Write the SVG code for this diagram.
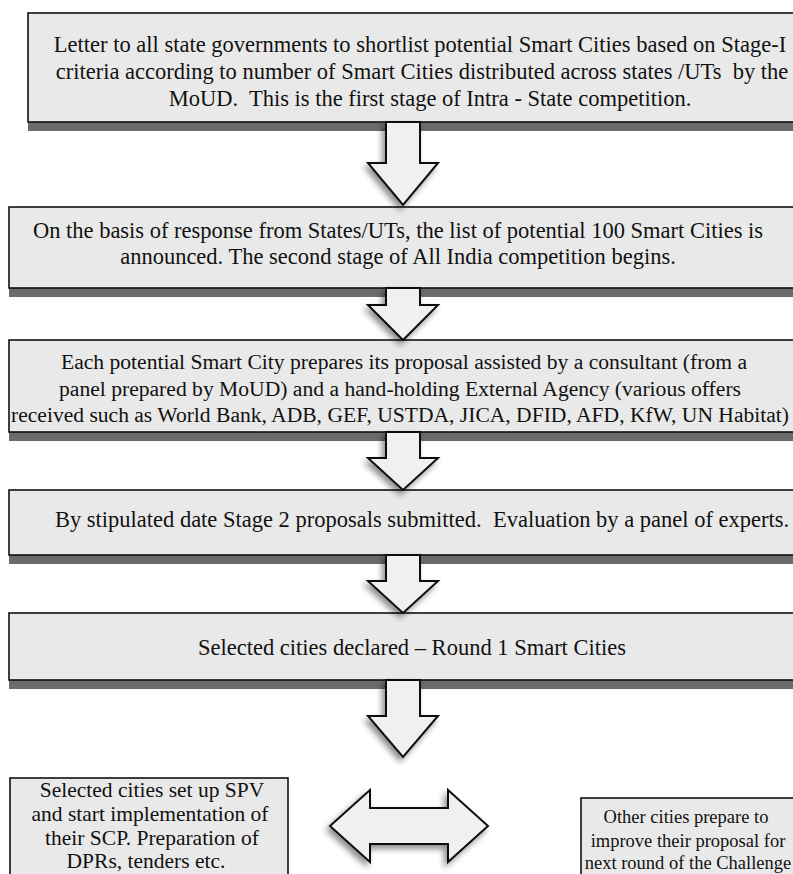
<svg xmlns="http://www.w3.org/2000/svg" width="793" height="874" viewBox="0 0 793 874">
<style>
.box{fill:#e9e9e9;stroke:#111;stroke-width:1.6}
.band{fill:#6b6b6b}
.t{font-family:"Liberation Serif","Times New Roman",serif;font-size:22.5px;fill:#111;text-anchor:middle}
.m{font-size:21.6px}
.b{font-size:21.5px}
.r{font-size:18.5px}
.arr{fill:#f0f0f0;stroke:#111;stroke-width:2;stroke-linejoin:miter}
</style>
<defs>
<filter id="sh" x="-30%" y="-30%" width="160%" height="160%">
<feGaussianBlur in="SourceAlpha" stdDeviation="3"/>
<feOffset dx="-3" dy="4" result="b"/>
<feComponentTransfer><feFuncA type="linear" slope="0.45"/></feComponentTransfer>
<feMerge><feMergeNode/><feMergeNode in="SourceGraphic"/></feMerge>
</filter>
</defs>
<rect width="793" height="874" fill="#ffffff"/>

<g id="n1">
<rect class="band" x="28" y="122" width="770" height="9"/>
<rect class="box" x="28" y="13" width="770" height="109"/>
<text class="t" x="420" y="52">Letter to all state governments to shortlist potential Smart Cities based on Stage-I</text>
<text class="t" x="422" y="79" xml:space="preserve">criteria according to number of Smart Cities distributed across states /UTs  by the</text>
<text class="t" x="430" y="106" xml:space="preserve">MoUD.  This is the first stage of Intra - State competition.</text>
</g>

<g id="n2">
<rect class="band" x="9" y="288" width="789" height="9"/>
<rect class="box" x="9" y="207" width="789" height="81"/>
<text class="t" x="398" y="238">On the basis of response from States/UTs, the list of potential 100 Smart Cities is</text>
<text class="t" x="398" y="264">announced. The second stage of All India competition begins.</text>
</g>

<g id="n3">
<rect class="band" x="9" y="432" width="789" height="9"/>
<rect class="box" x="9" y="340" width="789" height="92"/>
<text class="t m" x="404" y="369">Each potential Smart City prepares its proposal assisted by a consultant (from a</text>
<text class="t m" x="400" y="396">panel prepared by MoUD) and a hand-holding External Agency (various offers</text>
<text class="t m" x="400" y="422" textLength="778" lengthAdjust="spacingAndGlyphs">received such as World Bank, ADB, GEF, USTDA, JICA, DFID, AFD, KfW, UN Habitat)</text>
</g>

<g id="n4">
<rect class="band" x="9" y="555" width="789" height="9"/>
<rect class="box" x="9" y="490" width="789" height="65"/>
<text class="t" x="422" y="527" xml:space="preserve">By stipulated date Stage 2 proposals submitted.  Evaluation by a panel of experts.</text>
</g>

<g id="n5">
<rect class="band" x="9" y="680" width="789" height="9"/>
<rect class="box" x="9" y="613" width="789" height="67"/>
<text class="t" x="412" y="655">Selected cities declared – Round 1 Smart Cities</text>
</g>

<g id="n6">
<rect class="box" x="10" y="778" width="278" height="102"/>
<text class="t b" x="152" y="797">Selected cities set up SPV</text>
<text class="t b" x="150" y="821">and start implementation of</text>
<text class="t b" x="152" y="845">their SCP. Preparation of</text>
<text class="t b" x="146" y="868">DPRs, tenders etc.</text>
</g>

<g id="n7">
<rect class="box" x="581" y="798" width="214" height="80"/>
<text class="t r" x="686" y="823">Other cities prepare to</text>
<text class="t r" x="688" y="847">improve their proposal for</text>
<text class="t r" x="688" y="869">next round of the Challenge</text>
</g>

<g id="connectors">
<polygon class="arr" filter="url(#sh)" points="386,122 420,122 420,163 438,163 403,205 368,163 386,163"/>
<polygon class="arr" filter="url(#sh)" points="386,288 420,288 420,305 438,305 403,340 368,305 386,305"/>
<polygon class="arr" filter="url(#sh)" points="386,432 420,432 420,458 438,458 403,490 368,458 386,458"/>
<polygon class="arr" filter="url(#sh)" points="386,555 420,555 420,581 438,581 403,613 368,581 386,581"/>
<polygon class="arr" filter="url(#sh)" points="386,680 420,680 420,716 438,716 403,757 368,716 386,716"/>
<polygon class="arr" filter="url(#sh)" points="330,826 370,790 370,808 448,808 448,790 488,826 448,862 448,844 370,844 370,862"/>
</g>
</svg>
